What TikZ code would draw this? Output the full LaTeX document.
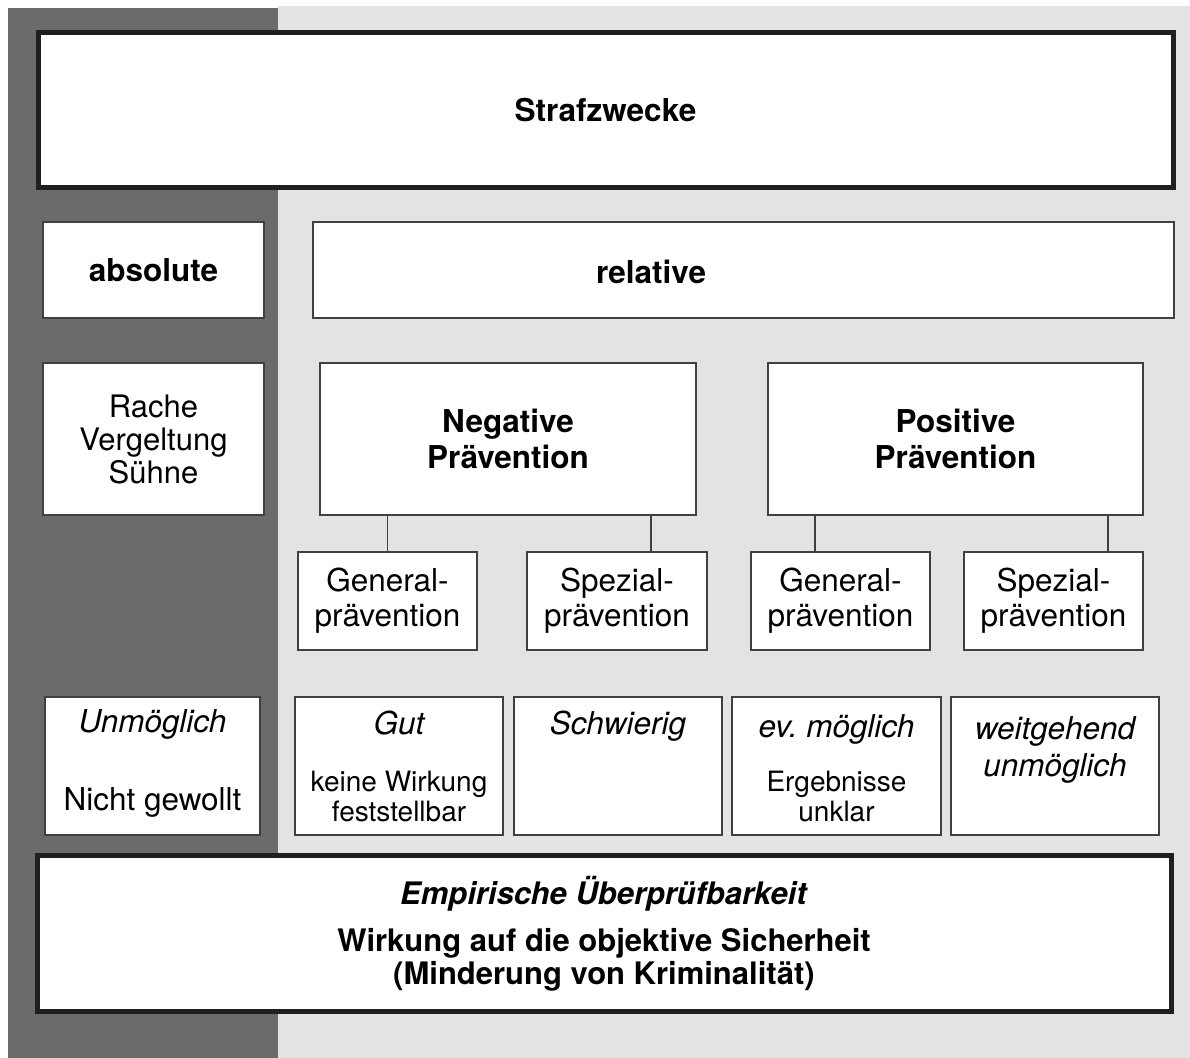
\documentclass[tikz,border=0pt]{standalone}
\usepackage{fontspec}
\setmainfont{TeX Gyre Heros}
\usetikzlibrary{positioning}
\definecolor{dunkelgrau}{gray}{0.42}
\definecolor{hellgrau}{gray}{0.89}
\definecolor{rand}{gray}{0.25}
\newcommand\hauptschrift{\fontsize{15.75}{18}\selectfont}
\newcommand\kleinschrift{\fontsize{14}{15}\selectfont}

\begin{document}
\begin{tikzpicture}[x=0.5pt,y=-0.5pt,
		block/.style={rectangle,draw=rand,line width=0.75pt,fill=white,inner sep=0pt,align=center,font=\hauptschrift},
		dickblock/.style={block,draw=black!88,line width=2.5pt},
		fett/.style={font=\hauptschrift\bfseries},
		wert/.style={font=\hauptschrift\itshape,anchor=base,inner sep=0pt,align=center},
		notiz/.style={font=\kleinschrift,inner sep=0pt,align=center},
		linie/.style={draw=rand,line width=0.75pt}]
		\useasboundingbox (0,0) rectangle (1190,1058);
		\fill[hellgrau] (278,6) rectangle (1190,1058);
		\fill[dunkelgrau] (8,8) rectangle (278,1058);

		\node[dickblock,fett,minimum width=567.5pt,minimum height=77.5pt] (zweck) at (605.5,110.5) {Strafzwecke};

		\node[block,fett,minimum width=110.5pt,minimum height=48pt] (absolut) at (153.5,270) {absolute};
		\node[block,minimum width=430.5pt,minimum height=48pt] (relativ) at (743.5,270) {};
		\node[fett,inner sep=0pt] (relativtext) at (651,272) {relative};

		\node[block,font=\fontsize{15.5}{16.5}\selectfont,minimum width=110.5pt,minimum height=76pt] (rache) at (153.5,439) {Rache\\Vergeltung\\Sühne};
		\node[block,fett,minimum width=188pt,minimum height=76pt] (negativ) at (508,439) {Negative\\Prävention};
		\node[block,fett,minimum width=187.5pt,minimum height=76pt] (positiv) at (955.5,439) {Positive\\Prävention};

		\node[block,font=\fontsize{15.75}{17.5}\selectfont,minimum width=89.5pt,minimum height=49pt] (ngen) at (387.5,601) {General-\\prävention};
		\node[block,font=\fontsize{15.75}{17.5}\selectfont,minimum width=90pt,minimum height=49pt] (nspez) at (617,601) {Spezial-\\prävention};
		\node[block,font=\fontsize{15.75}{17.5}\selectfont,minimum width=89.5pt,minimum height=49pt] (pgen) at (840.5,601) {General-\\prävention};
		\node[block,font=\fontsize{15.75}{17.5}\selectfont,minimum width=89.5pt,minimum height=49pt] (pspez) at (1053.5,601) {Spezial-\\prävention};

		\draw[linie] (ngen.north) -- (ngen.north |- negativ.south);
		\draw[linie] ([xshift=17pt]nspez.north) -- ([xshift=17pt]nspez.north |- negativ.south);
		\draw[linie] ([xshift=-12.75pt]pgen.north) -- ([xshift=-12.75pt]pgen.north |- positiv.south);
		\draw[linie] ([xshift=27.25pt]pspez.north) -- ([xshift=27.25pt]pspez.north |- positiv.south);

		\node[block,minimum width=107.5pt,minimum height=69pt] (unmoeglich) at (152.5,766) {};
		\node[block,minimum width=104pt,minimum height=69pt] (gut) at (399,766) {};
		\node[block,minimum width=104pt,minimum height=69pt] (schwierig) at (618,766) {};
		\node[block,minimum width=104.5pt,minimum height=69pt] (evmoeglich) at (836.5,766) {};
		\node[block,minimum width=104pt,minimum height=69pt] (weitgehend) at (1055,766) {};

		\node[wert] (unmoeglichkopf) at ([yshift=-18pt]unmoeglich.north) {Unmöglich};
		\node[font=\hauptschrift,anchor=base,inner sep=0pt] (nichtgewollt) at ([yshift=-57pt]unmoeglich.north) {Nicht gewollt};
		\node[wert] (gutkopf) at ([yshift=-19pt]gut.north) {Gut};
		\node[notiz] (gutnotiz) at ([yshift=-50pt]gut.north) {keine Wirkung\\feststellbar};
		\node[wert] (schwierigkopf) at ([yshift=-19pt]schwierig.north) {Schwierig};
		\node[wert] (evkopf) at ([yshift=-20.5pt]evmoeglich.north) {ev.\ möglich};
		\node[notiz] (evnotiz) at ([yshift=-50.25pt]evmoeglich.north) {Ergebnisse\\unklar};
		\node[wert,anchor=center,font=\fontsize{15.75}{18.5}\selectfont\itshape] (weitkopf) at ([yshift=-26.75pt]weitgehend.north) {weitgehend\\unmöglich};

		\node[dickblock,font=\fontsize{15.5}{16.5}\selectfont\bfseries,minimum width=567pt,minimum height=77.5pt] (empirie) at (604,933.5) {\textit{Empirische Überprüfbarkeit}\\[7pt]Wirkung auf die objektive Sicherheit\\(Minderung von Kriminalität)};
	\end{tikzpicture}
\end{document}
